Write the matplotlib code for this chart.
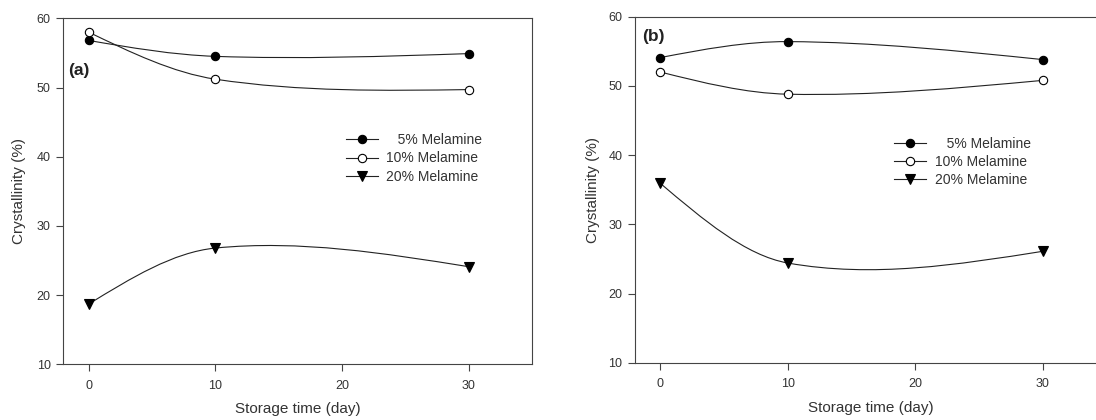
import matplotlib
matplotlib.use("Agg")
import matplotlib.pyplot as plt
from matplotlib.path import Path
from matplotlib.patches import PathPatch
from matplotlib.lines import Line2D

plt.rcParams['font.family'] = ['Liberation Sans', 'DejaVu Sans']

days = [0, 10, 30]
labels = ['   5% Melamine', '10% Melamine', '20% Melamine']

# panel (a)
a_5 = [56.8, 54.5, 54.9]
a_10 = [58.0, 51.2, 49.7]
a_20 = [18.7, 26.8, 24.1]

# panel (b)
b_5 = [54.1, 56.4, 53.8]
b_10 = [52.0, 48.8, 50.8]
b_20 = [35.9, 24.4, 26.1]

INK = '#222222'
AXC = '#444444'
styles = [dict(marker='o', mfc='black', mec='black', ms=6),
          dict(marker='o', mfc='white', mec='black', ms=6),
          dict(marker='v', mfc='black', mec='black', ms=6.5)]


def smooth_path(x, y):
    # cubic bezier through the three points (SigmaPlot style spline)
    d0 = (y[1] - y[0]) / (x[1] - x[0])
    d1 = (y[2] - y[1]) / (x[2] - x[1])
    m1 = (y[2] - y[0]) / (x[2] - x[0])
    m = [(3 * d0 - m1) / 2, m1, (3 * d1 - m1) / 2]
    verts = [(x[0], y[0])]
    codes = [Path.MOVETO]
    for i in range(2):
        h = x[i + 1] - x[i]
        verts += [(x[i] + h / 3, y[i] + m[i] * h / 3),
                  (x[i + 1] - h / 3, y[i + 1] - m[i + 1] * h / 3),
                  (x[i + 1], y[i + 1])]
        codes += [Path.CURVE4] * 3
    return Path(verts, codes)


def draw_panel(ax, series, tag, tag_xy, leg_xy):
    for vals, st in zip(series, styles):
        ax.add_patch(PathPatch(smooth_path(days, vals), fill=False,
                               edgecolor=INK, lw=0.8, zorder=2))
        ax.plot(days, vals, ls='none', zorder=3, mew=0.8, **st)
    ax.set_xlim(-2, 35)
    ax.set_ylim(10, 60)
    ax.set_xticks([0, 10, 20, 30])
    ax.set_yticks([10, 20, 30, 40, 50, 60])
    ax.tick_params(direction='out', length=5, width=0.8, colors=AXC,
                   labelsize=9, labelcolor='#333333', pad=4)
    ax.tick_params(axis='x', pad=6)
    for s in ax.spines.values():
        s.set_color(AXC)
        s.set_linewidth(0.8)
    ax.set_xlabel('Storage time (day)', fontsize=11, color='#333333')
    ax.set_ylabel('Crystallinity (%)', fontsize=11, color='#333333')
    ax.xaxis.set_label_coords(0.5, -0.11)
    ax.yaxis.set_label_coords(tag_xy[2], 0.5)
    ax.yaxis.label.set_va('center')
    ax.text(tag_xy[0], tag_xy[1], tag, transform=ax.transAxes,
            fontsize=12.5, fontweight='bold', color=INK, va='center', ha='left')
    handles = [Line2D([], [], color=INK, lw=0.8, mew=0.8, **st) for st in styles]
    ax.legend(handles, labels, loc='center left', bbox_to_anchor=leg_xy,
              frameon=False, fontsize=10, handlelength=2.3, handletextpad=0.6,
              labelspacing=0.3, borderpad=0, borderaxespad=0, labelcolor='#333333')


fig = plt.figure(figsize=(10.96, 4.2), dpi=100)
ax_a = fig.add_axes([63.3 / 1096, (420 - 364.3) / 420, 469 / 1096, 346 / 420])
ax_b = fig.add_axes([635 / 1096, (420 - 362.7) / 420, 471.6 / 1096, 346 / 420])

draw_panel(ax_a, [a_5, a_10, a_20], '(a)', (0.01, 0.849, -0.094), (0.602, 0.595))
draw_panel(ax_b, [b_5, b_10, b_20], '(b)', (0.016, 0.942, -0.09), (0.550, 0.581))

fig.savefig('out.png', dpi=100)
